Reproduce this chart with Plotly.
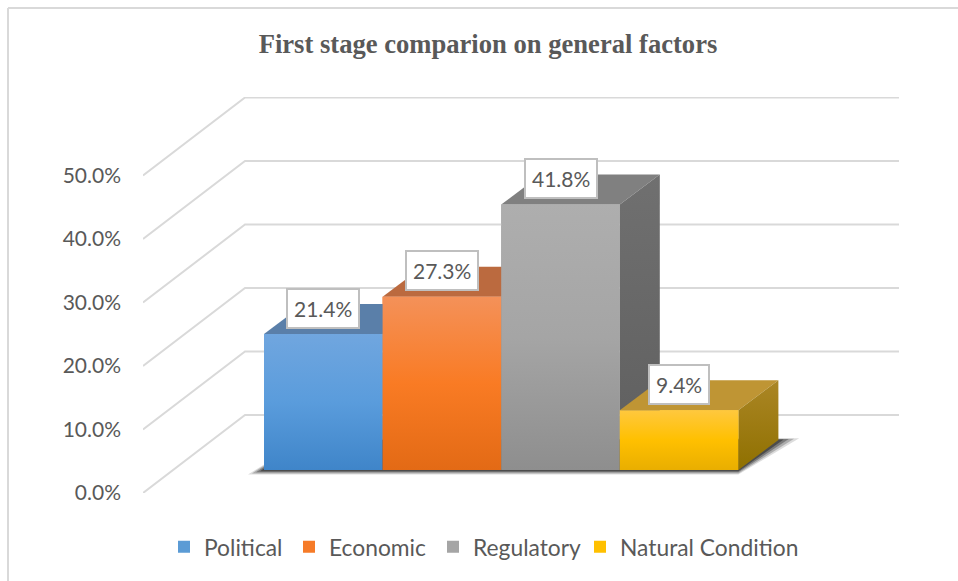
import plotly.graph_objects as go

categories = ["Political", "Economic", "Regulatory", "Natural Condition"]
values = [21.4, 27.3, 41.8, 9.4]
labels = ["21.4%", "27.3%", "41.8%", "9.4%"]
tick_vals = [0, 10, 20, 30, 40, 50]
tick_text = ["0.0%", "10.0%", "20.0%", "30.0%", "40.0%", "50.0%"]

base_colors = ["#5B9BD5", "#F67B28", "#A5A5A5", "#FFC000"]
front_grad = [["#3F85C9", "#5A9CDC", "#70A6DF"],
              ["#E36A15", "#F97B24", "#F49159"],
              ["#8E8E8E", "#A5A5A5", "#AEAEAE"],
              ["#E9AE00", "#FFC000", "#FFC83E"]]
top_colors = ["#5A7FA9", "#BB6A3F", "#808080", "#BF9534"]
side_colors = [["#3E6A95", "#4E7AA8"], ["#A85A20", "#B86A3A"], ["#5E5E5E", "#707070"], ["#8F7000", "#AB8625"]]
legend_text_x = [204, 329, 473, 620]

W, H = 958, 581
L, R, T, B = 143, 59, 97, 88
PX_X = 118.6          # pixels per category
PX_Y = 6.35           # pixels per percentage point
BAR_LEFT = 264
PLOT_W, PLOT_H = W - L - R, H - T - B
X_RANGE = [-(BAR_LEFT - L) / PX_X, (W - R - BAR_LEFT) / PX_X]
Y_RANGE = [0, PLOT_H / PX_Y]

WALL_DX, WALL_DY = 102 / PX_X, 78 / PX_Y
BAR_DX, BAR_DY = 40 / PX_X, 30 / PX_Y
BAR_BASE = 23 / PX_Y
GRID = "#D9D9D9"
TEXT = "#595959"
FONT = "Lato"
LEGEND_FONT = dict(family=FONT, size=22.8, color=TEXT)

fig = go.Figure()

# solid bars: data marks and native legend swatches, each with its own legend box
legend_ids = ["legend", "legend2", "legend3", "legend4"]
for i, (name, v) in enumerate(zip(categories, values)):
    fig.add_trace(go.Bar(x=[i + 0.5], y=[v], base=[BAR_BASE], width=[1.0], name=name,
                         legend=legend_ids[i],
                         marker=dict(color=base_colors[i], line=dict(width=0)),
                         hoverinfo="skip"))

# walls
for t in tick_vals:
    fig.add_trace(go.Scatter(
        x=[X_RANGE[0], X_RANGE[0] + WALL_DX, X_RANGE[1]],
        y=[t, t + WALL_DY, t + WALL_DY],
        mode="lines", line=dict(color=GRID, width=2), showlegend=False, hoverinfo="skip"))

# floor shadow
n = len(values)
for grow, alpha in [(1.0, 0.15), (0.75, 0.25), (0.5, 0.35), (0.25, 0.5)]:
    ex = grow * 16 / PX_X
    ey = grow * 4.5 / PX_Y
    fig.add_trace(go.Scatter(
        x=[-ex, n, n + BAR_DX + ex * 1.3, BAR_DX, -ex],
        y=[BAR_BASE - ey, BAR_BASE - ey, BAR_BASE + BAR_DY + ey * 0.4, BAR_BASE + BAR_DY, BAR_BASE - ey],
        mode="lines", fill="toself", fillcolor=f"rgba(30,30,30,{alpha})",
        line=dict(width=0), showlegend=False, hoverinfo="skip"))


def face(xs, ys, **kw):
    fig.add_trace(go.Scatter(x=xs, y=ys, mode="lines", fill="toself",
                             line=dict(width=0), showlegend=False, hoverinfo="skip", **kw))


def scale(cols):
    step = 1 / (len(cols) - 1)
    return [[k * step, c] for k, c in enumerate(cols)]


# 3D faces, painted left to right so each front hides the previous side
for i, v in enumerate(values):
    x0, x1 = i, i + 1
    y0, y1 = BAR_BASE, BAR_BASE + v
    face([x0, x0 + BAR_DX, x1 + BAR_DX, x1, x0], [y1, y1 + BAR_DY, y1 + BAR_DY, y1, y1],
         fillcolor=top_colors[i])
    face([x1, x1 + BAR_DX, x1 + BAR_DX, x1, x1], [y0, y0 + BAR_DY, y1 + BAR_DY, y1, y0],
         fillgradient=dict(type="vertical", colorscale=scale(side_colors[i])))
    face([x0, x1, x1, x0, x0], [y0, y0, y1, y1, y0],
         fillgradient=dict(type="vertical", colorscale=scale(front_grad[i])))

# data labels
annotations = []
for i, v in enumerate(values):
    annotations.append(dict(
        x=i + 0.5, y=BAR_BASE + v + 26 / PX_Y, text=labels[i], showarrow=False,
        xanchor="center", yanchor="middle",
        font=dict(family=FONT, size=21, color=TEXT),
        bgcolor="white", bordercolor="#BFBFBF", borderwidth=2, borderpad=6))


def px(x):
    return (x - L) / PLOT_W


def py(y):
    return (H - B - y) / PLOT_H


legends = {}
for lid, tx in zip(legend_ids, legend_text_x):
    legends[lid] = dict(orientation="h", x=px(tx - 40), xanchor="left", y=py(547), yanchor="middle",
                        font=LEGEND_FONT, bgcolor="rgba(0,0,0,0)",
                        itemclick=False, itemdoubleclick=False)

fig.update_layout(
    width=W, height=H,
    margin=dict(l=L, r=R, t=T, b=B),
    paper_bgcolor="white", plot_bgcolor="white",
    barmode="overlay",
    title=dict(text="<b>First stage comparion on general factors</b>",
               x=488 / W, xanchor="center", y=1 - 44 / H, yanchor="middle",
               font=dict(family="Liberation Serif", size=26.6, color=TEXT)),
    xaxis=dict(range=X_RANGE, visible=False, fixedrange=True),
    yaxis=dict(range=Y_RANGE, tickvals=tick_vals, ticktext=tick_text, showgrid=False,
               zeroline=False, showline=False, ticks="", ticklabelstandoff=21,
               tickfont=dict(family=FONT, size=21, color=TEXT), fixedrange=True),
    showlegend=True,
    annotations=annotations,
    shapes=[dict(type="line", xref="paper", yref="paper",
                 x0=px(8), x1=px(8), y0=py(8), y1=py(H),
                 line=dict(color=GRID, width=2)),
            dict(type="line", xref="paper", yref="paper",
                 x0=px(8), x1=px(W), y0=py(8), y1=py(8),
                 line=dict(color=GRID, width=2))],
    **legends,
)

fig.write_html("out.html", config=dict(displayModeBar=False),
               post_script="document.body.style.margin='0';")
